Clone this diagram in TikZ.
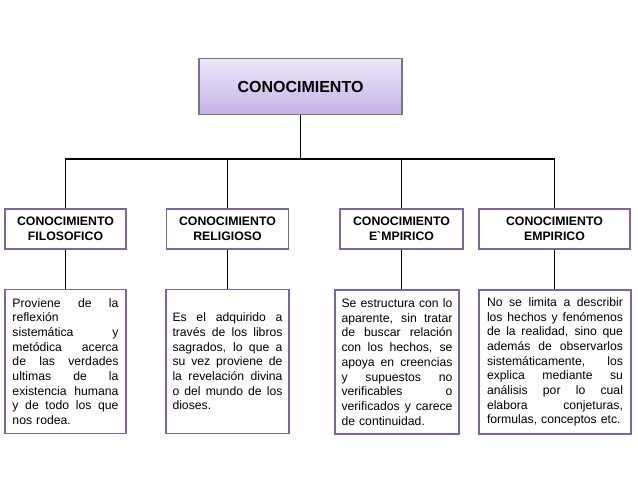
\documentclass[tikz,border=0pt]{standalone}
\usepackage{fontspec}
\setmainfont{Liberation Sans}
\definecolor{boxborder}{RGB}{128,100,162}
\definecolor{topborder}{RGB}{125,112,148}
\definecolor{toplight}{RGB}{238,232,248}
\definecolor{topdark}{RGB}{196,178,230}
\newlength\dw
\newcommand\jl[1]{\leavevmode\hbox to\dw{\spaceskip=0.278em plus 1fil\relax #1}}
\tikzset{
  topbox/.style={draw=topborder, line width=1.1pt, top color=toplight, bottom color=topdark,
    minimum width=203pt, minimum height=56pt, inner sep=0pt,
    font=\fontsize{16}{19}\selectfont\bfseries},
  headbox/.style={draw=boxborder, line width=1.3pt, fill=white, minimum height=40pt, inner sep=0pt,
    align=center, font=\fontsize{12.3}{14.6}\selectfont\bfseries},
  descbox/.style={draw=boxborder, line width=1.3pt, fill=white, minimum height=144pt, inner sep=0pt,
    align=left, font=\fontsize{12.2}{14.7}\selectfont},
  conn/.style={draw=black, line width=1.8pt, line join=miter}
}
\begin{document}
\begin{tikzpicture}[x=1pt,y=-1pt]
\useasboundingbox (0,0) rectangle (638,479);
\fill[white] (0,0) rectangle (638,479);

\node[topbox] (top) at (300.5,86.5) {CONOCIMIENTO};

\node[headbox, minimum width=121pt] (h1) at (65.5,229) {CONOCIMIENTO\\FILOSOFICO};
\node[headbox, minimum width=122pt] (h2) at (227.5,229) {CONOCIMIENTO\\RELIGIOSO};
\node[headbox, minimum width=123pt] (h3) at (401.5,229) {CONOCIMIENTO\\E\textasciigrave MPIRICO};
\node[headbox, minimum width=151pt] (h4) at (554.5,229) {CONOCIMIENTO\\EMPIRICO};

\node[descbox, minimum width=121pt, text width=106pt] (d1) at (65.5,361.5) {%
\setlength\dw{106pt}%
\jl{Proviene de la}\\
reflexión\\
\jl{sistemática y}\\
\jl{metódica acerca}\\
\jl{de las verdades}\\
\jl{ultimas de la}\\
\jl{existencia humana}\\
\jl{y de todo los que}\\
nos rodea.};

\node[descbox, minimum width=123pt, text width=110pt] (d2) at (227.5,361.5) {%
\setlength\dw{110pt}%
\jl{Es el adquirido a}\\
\jl{través de los libros}\\
\jl{sagrados, lo que a}\\
\jl{su vez proviene de}\\
\jl{la revelación divina}\\
\jl{o del mundo de los}\\
dioses.};

\node[descbox, minimum width=124pt, text width=111pt] (d3) at (397,362) {%
\setlength\dw{111pt}%
\jl{Se estructura con lo}\\
\jl{aparente, sin tratar}\\
\jl{de buscar relación}\\
\jl{con los hechos, se}\\
\jl{apoya en creencias}\\
\jl{y supuestos no}\\
\jl{verificables o}\\
\jl{verificados y carece}\\
de continuidad.};

\node[descbox, minimum width=152pt, text width=136pt] (d4) at (555,362) {%
\setlength\dw{136pt}%
\jl{No se limita a describir}\\
\jl{los hechos y fenómenos}\\
\jl{de la realidad, sino que}\\
\jl{además de observarlos}\\
\jl{sistemáticamente, los}\\
\jl{explica mediante su}\\
\jl{análisis por lo cual}\\
\jl{elabora conjeturas,}\\
formulas, conceptos etc.};

\coordinate (bus) at (299,159);
\draw[conn] (top.south) -- (top.south |- bus);
\draw[conn] (h1.north) -- (h1.north |- bus) -- (h4.north |- bus) -- (h4.north);
\draw[conn] (h2.north) -- (h2.north |- bus);
\draw[conn] (h3.north) -- (h3.north |- bus);
\draw[conn] (h1.south) -- (h1.south |- d1.north);
\draw[conn] (h2.south) -- (h2.south |- d2.north);
\draw[conn] (h3.south) -- (h3.south |- d3.north);
\draw[conn] (h4.south) -- (h4.south |- d4.north);
\end{tikzpicture}
\end{document}
